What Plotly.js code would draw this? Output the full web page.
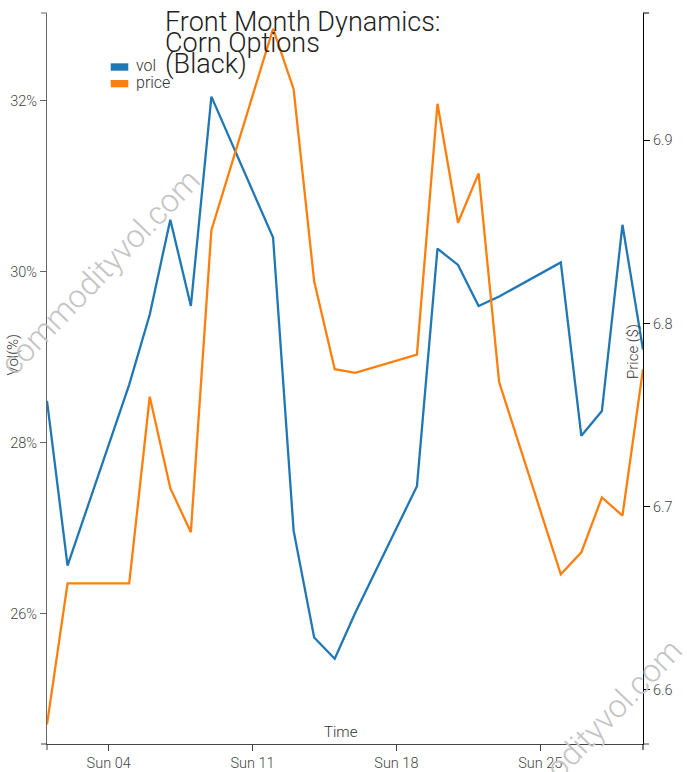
<!DOCTYPE html>
<html>
<head>
<meta charset="utf-8">
<script src="https://cdn.plot.ly/plotly-3.0.1.min.js"></script>
<style>html,body{margin:0;padding:0;background:#fff;}#chart{width:687px;height:772px;}</style>
</head>
<body>
<div id="chart"></div>
<script>
// ---- data (September 2022, front month corn options) ----
const dates = ["2022-09-01","2022-09-02","2022-09-05","2022-09-06","2022-09-07","2022-09-08","2022-09-09",
  "2022-09-12","2022-09-13","2022-09-14","2022-09-15","2022-09-16",
  "2022-09-19","2022-09-20","2022-09-21","2022-09-22","2022-09-23",
  "2022-09-26","2022-09-27","2022-09-28","2022-09-29","2022-09-30"];
const volPct = [28.49,26.56,28.68,29.50,30.61,29.60,32.05,
  30.40,26.97,25.72,25.47,26.01,
  27.49,30.27,30.08,29.60,29.71,
  30.11,28.08,28.37,30.55,29.09];
const price = [6.581,6.658,6.658,6.760,6.710,6.686,6.851,
  6.961,6.928,6.823,6.775,6.773,
  6.783,6.920,6.855,6.882,6.768,
  6.663,6.675,6.705,6.695,6.775];
const seriesNames = ["vol","price"];
const titleLines = ["Front Month Dynamics:","Corn Options","(Black)"];
const watermark = "commodityvol.com";

const BLUE = "#1f77b4", ORANGE = "#ff7f0e";
const FONT = "Roboto, 'Open Sans', sans-serif";

const W = 687, H = 772;
const M = {l:47, r:44, t:13, b:28};
const pw = W - M.l - M.r, ph = H - M.t - M.b;
const px = x => (x - M.l) / pw;          // pixel -> paper x
const py = y => (H - M.b - y) / ph;      // pixel -> paper y

const traces = [
  {x: dates, y: volPct, name: seriesNames[0], type: "scatter", mode: "lines",
   line: {color: BLUE, width: 2.3}, yaxis: "y", showlegend: false},
  {x: dates, y: price, name: seriesNames[1], type: "scatter", mode: "lines",
   line: {color: ORANGE, width: 2.3}, yaxis: "y2", showlegend: false}
];

const tickFont = {family: FONT, size: 14.5, color: "#444", weight: 300};

const annotations = [];
titleLines.forEach((t, i) => {
  annotations.push({text: t, xref: "paper", yref: "paper", x: px(163), y: py(22.5 + i*20.8),
    xanchor: "left", yanchor: "middle", showarrow: false,
    font: {family: FONT, size: 27, color: "#222", weight: 300}});
});
// legend texts
annotations.push({text: seriesNames[0], xref: "paper", yref: "paper", x: px(134), y: py(66),
  xanchor: "left", yanchor: "middle", showarrow: false, font: {family: FONT, size: 16, color: "#333", weight: 300}});
annotations.push({text: seriesNames[1], xref: "paper", yref: "paper", x: px(134), y: py(82.5),
  xanchor: "left", yanchor: "middle", showarrow: false, font: {family: FONT, size: 16, color: "#333", weight: 300}});
// axis titles
annotations.push({text: "Time", xref: "paper", yref: "paper", x: px(341), y: py(732),
  xanchor: "center", yanchor: "middle", showarrow: false, font: {family: FONT, size: 15, color: "#333", weight: 300}});
annotations.push({text: "Vol(%)", xref: "paper", yref: "paper", x: px(12.5), y: py(355), textangle: -90,
  xanchor: "center", yanchor: "middle", showarrow: false, font: {family: FONT, size: 15, color: "#333", weight: 300}});
annotations.push({text: "Price ($)", xref: "paper", yref: "paper", x: px(632.5), y: py(351.5), textangle: -90,
  xanchor: "center", yanchor: "middle", showarrow: false, font: {family: FONT, size: 15, color: "#333", weight: 300}});
// watermarks
[[100, 272], [582, 742]].forEach(c => {
  annotations.push({text: watermark, xref: "paper", yref: "paper", x: px(c[0]), y: py(c[1]), textangle: -46,
    xanchor: "center", yanchor: "middle", showarrow: false,
    font: {family: FONT, size: 32, color: "#c4c4c4", weight: 300}});
});

const shapes = [
  // legend swatches
  {type: "rect", xref: "paper", yref: "paper", x0: px(110.7), x1: px(128.3), y0: py(70.7), y1: py(63.3),
   fillcolor: BLUE, line: {width: 0}},
  {type: "rect", xref: "paper", yref: "paper", x0: px(110.7), x1: px(128.3), y0: py(87.3), y1: py(80),
   fillcolor: ORANGE, line: {width: 0}},
  // outer end ticks of axes
  {type: "line", xref: "paper", yref: "paper", xsizemode: "pixel", xanchor: 0, x0: -6, x1: 0, y0: 1, y1: 1, line: {color: "#666", width: 1}},
  {type: "line", xref: "paper", yref: "paper", xsizemode: "pixel", xanchor: 0, x0: -6, x1: 0, y0: 0, y1: 0, line: {color: "#444", width: 1}},
  {type: "line", xref: "paper", yref: "paper", xsizemode: "pixel", xanchor: 1, x0: 0, x1: 6, y0: 1, y1: 1, line: {color: "#000", width: 1}},
  {type: "line", xref: "paper", yref: "paper", xsizemode: "pixel", xanchor: 1, x0: 0, x1: 6, y0: 0, y1: 0, line: {color: "#444", width: 1}},
  {type: "line", xref: "paper", yref: "paper", ysizemode: "pixel", yanchor: 0, y0: -6, y1: 0, x0: 0, x1: 0, line: {color: "#444", width: 1}},
  {type: "line", xref: "paper", yref: "paper", ysizemode: "pixel", yanchor: 0, y0: -6, y1: 0, x0: 1, x1: 1, line: {color: "#000", width: 1}}
];

const layout = {
  width: W, height: H,
  margin: M,
  paper_bgcolor: "#fff", plot_bgcolor: "#fff",
  showlegend: false,
  font: {family: FONT},
  xaxis: {
    type: "date", range: [dates[0], dates[dates.length-1]],
    tick0: "2022-09-04", dtick: 7*86400000, tickformat: "%a %d",
    showgrid: false, zeroline: false, showline: true, linecolor: "#444", linewidth: 1,
    ticks: "outside", ticklen: 6, tickcolor: "#444", tickfont: tickFont
  },
  yaxis: {
    range: [24.473, 33.029], tick0: 0, dtick: 2, ticksuffix: "%",
    showgrid: false, zeroline: false, showline: true, linecolor: "#666", linewidth: 1,
    ticks: "outside", ticklen: 6, tickcolor: "#666", tickfont: tickFont
  },
  yaxis2: {
    overlaying: "y", side: "right", range: [6.5703, 6.9696], tick0: 6, dtick: 0.1, tickformat: ".1f",
    showgrid: false, zeroline: false, showline: true, linecolor: "#000", linewidth: 1,
    ticks: "outside", ticklen: 6, tickcolor: "#000", tickfont: tickFont
  },
  annotations: annotations,
  shapes: shapes
};

Plotly.newPlot("chart", traces, layout, {displayModeBar: false, staticPlot: true});
</script>
</body>
</html>
